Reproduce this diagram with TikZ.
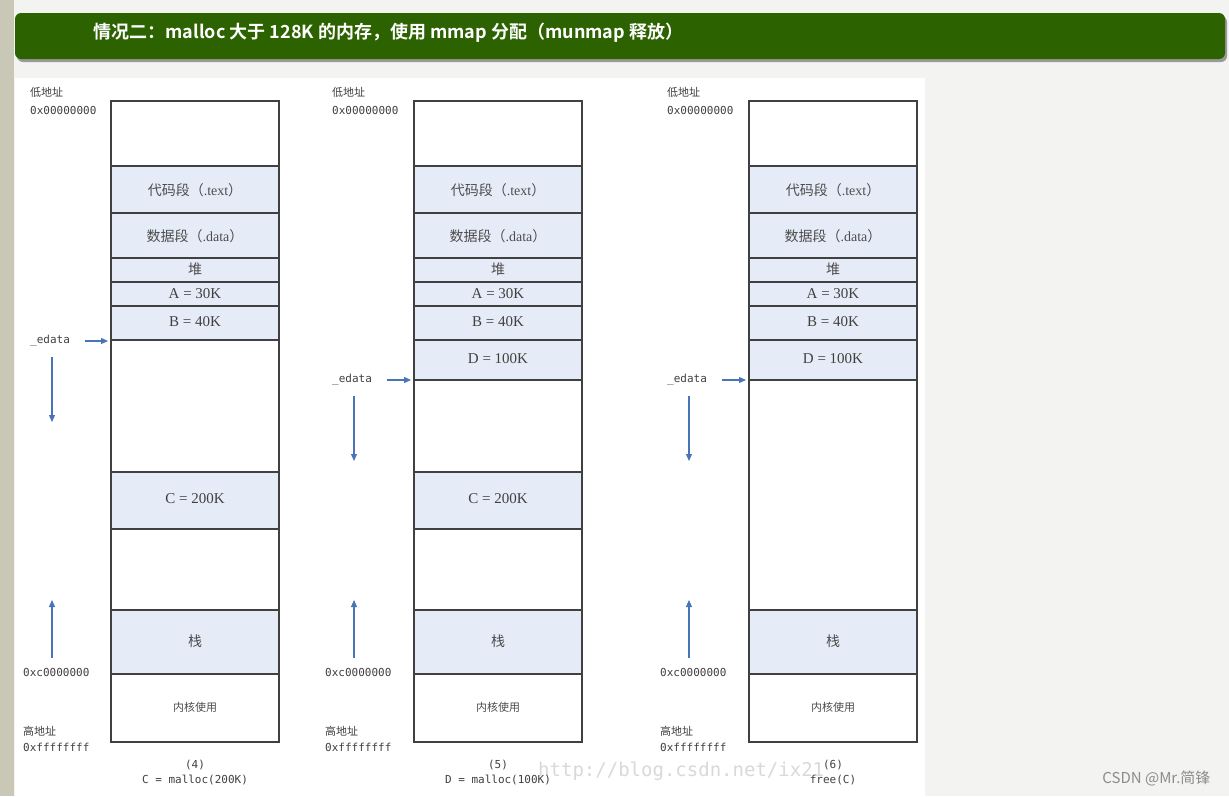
\documentclass[tikz,border=0pt]{standalone}
\usepackage{fontspec}
\setmainfont{Liberation Serif}
\newfontfamily\cjk{Noto Sans CJK SC}
\newfontfamily\cjkb{Noto Sans CJK SC Bold}
\newfontfamily\mono{DejaVu Sans Mono}
\usetikzlibrary{arrows.meta}
\definecolor{bg}{HTML}{F3F3F1}
\definecolor{strip}{HTML}{C9C8B6}
\definecolor{hdr}{HTML}{2C6300}
\definecolor{fillb}{HTML}{E6ECF7}
\definecolor{arr}{HTML}{4A74B8}
\tikzset{
 seg/.style={draw=black!75,line width=1.2pt},
 filled/.style={seg,fill=fillb},
 lab/.style={font=\fontsize{15}{17}\selectfont,text=black!75},
 cjklab/.style={font=\cjk\fontsize{14}{16}\selectfont,text=black!70},
 addr/.style={font=\mono\fontsize{11}{13}\selectfont,text=black!75,anchor=west,inner sep=0},
 blue/.style={draw=arr,line width=1.2pt,-{Triangle[length=7pt,width=6pt]}}
}
\begin{document}
\begin{tikzpicture}[x=1pt,y=-1pt]
\useasboundingbox (0,0) rectangle (1229,796);
\fill[bg] (0,0) rectangle (1229,796);
\fill[strip] (0,0) rectangle (14,796);
\fill[black!40,rounded corners=6pt] (17,16) rectangle (1227,62);
\fill[hdr,rounded corners=6pt] (15,13) rectangle (1225,59);
\node[anchor=west,text=white,font=\cjkb\fontsize{18}{20}\selectfont] (title) at (90,33) {情况二：malloc 大于 128K 的内存，使用 mmap 分配（munmap 释放）};
\fill[white] (15,78) rectangle (925,796);
\node[font=\mono\fontsize{19}{21}\selectfont,text=black!15,anchor=west,inner sep=0] (wm) at (538,771) {http://blog.csdn.net/ix21};
\foreach \xo/\ya/\cap/\capb/\cl [count=\i] in {111/341/(4)/C = malloc(200K)/0, 414/380/(5)/D = malloc(100K)/302, 749/380/(6)/free(C)/637}{
 \pgfmathsetmacro{\xe}{\xo+168}
 \pgfmathsetmacro{\xm}{\xo+84}
 \pgfmathsetmacro{\lx}{\cl+30}
 \pgfmathsetmacro{\ly}{\cl+23}
 \pgfmathsetmacro{\ax}{\cl+52}
 \draw[seg,fill=white] (\xo,101) rectangle (\xe,742);
 \draw[filled] (\xo,166) rectangle (\xe,213);
 \draw[filled] (\xo,213) rectangle (\xe,258);
 \draw[filled] (\xo,258) rectangle (\xe,282);
 \draw[filled] (\xo,282) rectangle (\xe,306);
 \draw[filled] (\xo,306) rectangle (\xe,340);
 \draw[filled] (\xo,610) rectangle (\xe,674);
 \ifnum\i>1
  \draw[filled] (\xo,340) rectangle (\xe,380);
  \node[lab] (D\i) at (\xm,359) {D = 100K};
 \fi
 \ifnum\i<3
  \draw[filled] (\xo,472) rectangle (\xe,529);
  \node[lab] (C\i) at (\xm,499) {C = 200K};
 \fi
 \node[cjklab] (t\i) at (\xm,190) {代码段（\rmfamily .text\cjk）};
 \node[cjklab] (d\i) at (\xm,236) {数据段（\rmfamily .data\cjk）};
 \node[cjklab] (h\i) at (\xm,269) {堆};
 \node[lab] (a\i) at (\xm,294) {A = 30K};
 \node[lab] (b\i) at (\xm,322) {B = 40K};
 \node[cjklab] (s\i) at (\xm,641) {栈};
 \node[cjklab,font=\cjk\fontsize{11}{13}\selectfont] (k\i) at (\xm,707) {内核使用};
 \node[addr,font=\cjk\fontsize{11}{13}\selectfont] (lo\i) at (\lx,92) {低地址};
 \node[addr] (lo2\i) at (\lx,110) {0x00000000};
 \node[addr] (xc\i) at (\ly,672) {0xc0000000};
 \node[addr,font=\cjk\fontsize{11}{13}\selectfont] (hi\i) at (\ly,731) {高地址};
 \node[addr] (hi2\i) at (\ly,747) {0xffffffff};
 \node[addr] (ed\i) at (\lx,\ya) {\_edata};
 \coordinate (ea\i) at (\lx+55,\ya);
 \coordinate (eb\i) at (\xo-3,\ya);
 \draw[blue] (ea\i) -- (eb\i);
 \coordinate (da\i) at (\ax,\ya+16);
 \coordinate (db\i) at (\ax,\ya+81);
 \draw[blue] (da\i) -- (db\i);
 \coordinate (ua\i) at (\ax,658);
 \coordinate (ub\i) at (\ax,600);
 \draw[blue] (ua\i) -- (ub\i);
 \node[addr,anchor=center] (c\i) at (\xm,765) {\cap};
 \node[addr,anchor=center] (cb\i) at (\xm,780) {\capb};
}
\node[font=\cjk\fontsize{15}{17}\selectfont,text=black!45,anchor=east] (csdn) at (1214,778) {CSDN @Mr.简锋};
\end{tikzpicture}
\end{document}
